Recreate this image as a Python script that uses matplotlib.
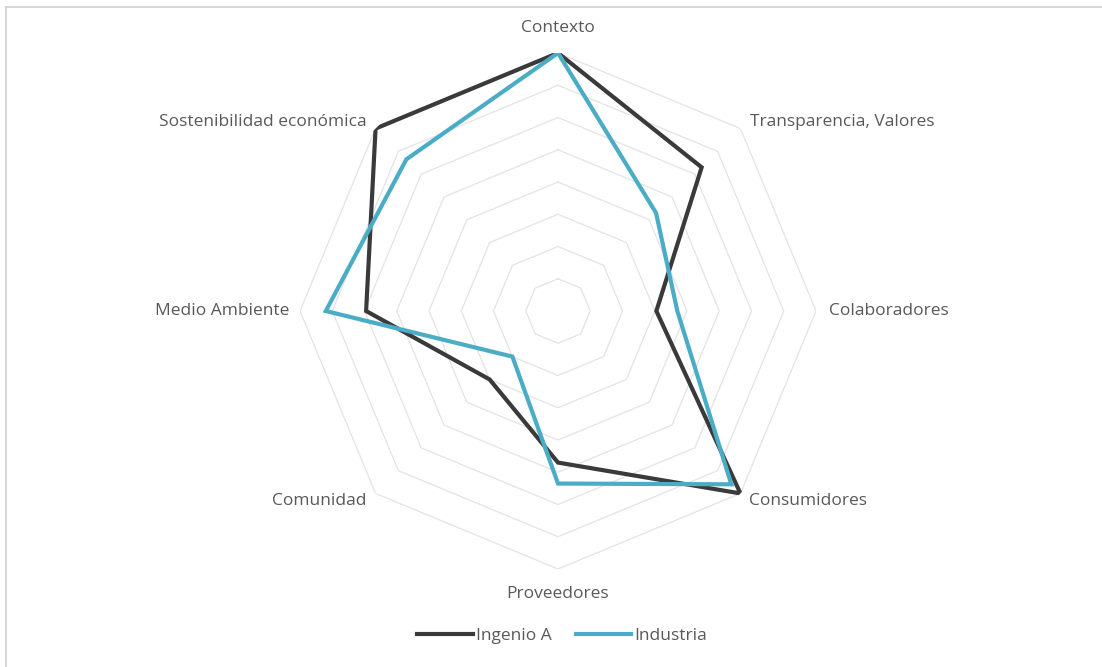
import numpy as np
import matplotlib
matplotlib.use("Agg")
import matplotlib.pyplot as plt
from matplotlib.lines import Line2D

categories = ["Contexto", "Transparencia, Valores", "Colaboradores", "Consumidores",
              "Proveedores", "Comunidad", "Medio Ambiente", "Sostenibilidad económica"]
ingenio_a = [8.0, 6.3, 3.05, 8.0, 4.7, 3.0, 5.95, 8.0]
industria = [8.0, 4.3, 3.7, 7.6, 5.35, 2.0, 7.2, 6.65]
series_names = ["Ingenio A", "Industria"]
ring_levels = [1, 2, 3, 4, 5, 6, 7, 8]
r_max = 8

plt.rcParams['font.family'] = ['Open Sans', 'DejaVu Sans']

W, H = 1102, 667
fig = plt.figure(figsize=(W / 100, H / 100), dpi=100)

cx, cy, R = 558, 311, 258
ax = fig.add_axes([(cx - R) / W, (H - cy - R) / H, 2 * R / W, 2 * R / H], projection='polar')
ax.set_theta_offset(np.pi / 2)
ax.set_theta_direction(-1)
ax.set_ylim(0, r_max)
ax.axis('off')

n = len(categories)
angles = np.linspace(0, 2 * np.pi, n, endpoint=False)
ang_c = np.append(angles, angles[0])

grid_col = '#e3e3e3'
for lv in ring_levels:
    ax.plot(ang_c, [lv] * (n + 1), color=grid_col, lw=0.9, zorder=1)

dark = '#3a3a3a'
teal = '#4BACC6'
ax.plot(ang_c, ingenio_a + [ingenio_a[0]], color=dark, lw=3.0, zorder=3,
        solid_joinstyle='miter')
ax.plot(ang_c, industria + [industria[0]], color=teal, lw=3.0, zorder=4,
        solid_joinstyle='miter')

label_col = '#595959'
fs = 12.5
offsets = [
    (0, 25, 'center'),
    (10, 7, 'left'),
    (13, 0, 'left'),
    (9, -8, 'left'),
    (0, -25, 'center'),
    (-9, -8, 'right'),
    (-11, 0, 'right'),
    (-9, 7, 'right'),
]
for a, lab, (dx, dy, ha) in zip(angles, categories, offsets):
    ax.annotate(lab, xy=(a, r_max), xytext=(dx, dy), textcoords='offset pixels',
                ha=ha, va='center', fontsize=fs, color=label_col)

handles = [Line2D([0], [0], color=dark, lw=3.0), Line2D([0], [0], color=teal, lw=3.0)]
leg = fig.legend(handles, series_names, loc='center', bbox_to_anchor=(562 / W, 1 - 636 / H),
                 ncol=2, frameon=False, handlelength=3.2, handletextpad=0.15,
                 columnspacing=1.4, fontsize=fs)
for t in leg.get_texts():
    t.set_color(label_col)

border = '#d0d0d0'
fig.add_artist(Line2D([6 / W, 1], [1 - 7 / H, 1 - 7 / H], color=border, lw=1.2))
fig.add_artist(Line2D([6 / W, 6 / W], [0, 1 - 7 / H], color=border, lw=1.2))

fig.savefig('out.png', dpi=100, facecolor='white')
